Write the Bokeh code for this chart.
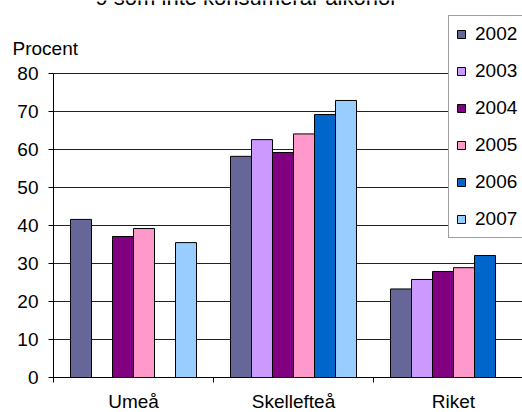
from bokeh.plotting import figure
from bokeh.models import ColumnDataSource, Range1d, FixedTicker, Label, Legend, LegendItem
from bokeh.transform import dodge
from bokeh.embed import file_html
from bokeh.resources import INLINE

# ---- data ----
categories = ["Umeå", "Skellefteå", "Riket"]
years = ["2002", "2003", "2004", "2005", "2006", "2007"]
nan = float("nan")
v2002 = [41.6, 58.2, 23.3]
v2003 = [nan, 62.6, 25.8]
v2004 = [37.1, 59.2, 27.9]
v2005 = [39.2, 64.1, 28.9]
v2006 = [nan, 69.2, 32.1]
v2007 = [35.5, 72.9, nan]
series = [v2002, v2003, v2004, v2005, v2006, v2007]
colors = ["#666699", "#CC99FF", "#800080", "#FF99CC", "#0066CC", "#99CCFF"]
y_ticks = [0, 10, 20, 30, 40, 50, 60, 70, 80]
y_label = "Procent"
title_text = "9 som inte konsumerar alkohol"

FONT = "Liberation Sans"
FS = "19px"

W, H = 522, 412
X0, PXX = 53, 160.0   # pixel of x=0, pixels per category
Y0, PXY = 377, 3.8    # pixel of y=0, pixels per percent
x_start, x_end = -X0 / PXX, (W - X0) / PXX
y_start, y_end = (Y0 - H) / PXY, Y0 / PXY

data = {"x": [i + 0.5 for i in range(len(categories))]}
for yr, vals in zip(years, series):
    data[yr] = vals
src = ColumnDataSource(data)

p = figure(width=W, height=H,
           x_range=Range1d(x_start, x_end), y_range=Range1d(y_start, y_end),
           output_backend="svg", toolbar_location=None, min_border=0,
           outline_line_color=None, background_fill_color="white")
p.xgrid.visible = False
p.ygrid.visible = False

# horizontal gridlines at the tick values, from the y axis to the right edge
grid_y = y_ticks[1:]
p.segment(x0=[0] * len(grid_y), x1=[x_end] * len(grid_y), y0=grid_y, y1=grid_y,
          line_color="#222222", line_width=1)

BW = 0.13125
items = []
n = len(years)
for i, (yr, col) in enumerate(zip(years, colors)):
    off = (i - (n - 1) / 2) * BW
    r = p.vbar(x=dodge("x", off, range=p.x_range), top=yr, width=BW, source=src,
               fill_color=col, line_color="black", line_width=1)
    items.append(LegendItem(label=yr, renderers=[r]))

# y axis
ya = p.yaxis[0]
ya.fixed_location = 0
ya.bounds = (0, y_ticks[-1])
ya.ticker = FixedTicker(ticks=y_ticks)
ya.major_tick_out = 5
ya.major_tick_in = 0
ya.minor_tick_out = 0
ya.minor_tick_in = 0
ya.axis_line_color = "black"
ya.major_tick_line_color = "black"
ya.major_label_text_font = FONT
ya.major_label_text_font_size = FS
ya.major_label_text_color = "black"
ya.major_label_standoff = 10

# x axis
xa = p.xaxis[0]
xa.fixed_location = 0
xa.bounds = (0, x_end)
cat_pos = [i + 0.5 for i in range(len(categories))]
xa.ticker = FixedTicker(ticks=cat_pos, minor_ticks=list(range(0, len(categories))))
xa.major_label_overrides = {pos: c for pos, c in zip(cat_pos, categories)}
xa.major_tick_out = 0
xa.major_tick_in = 0
xa.minor_tick_out = 5
xa.minor_tick_in = 0
xa.minor_tick_line_color = "black"
xa.axis_line_color = "black"
xa.major_label_text_font = FONT
xa.major_label_text_font_size = FS
xa.major_label_text_color = "black"
xa.major_label_standoff = 8

p.add_layout(Label(x=(12 - X0) / PXX, y=(Y0 - 48) / PXY, text=y_label,
                   text_align="left", text_baseline="alphabetic",
                   text_font=FONT, text_font_size=FS, text_color="black"))

p.add_layout(Label(x=(95 - X0) / PXX, y=(Y0 + 3) / PXY, text=title_text,
                   text_align="left", text_baseline="alphabetic",
                   text_font=FONT, text_font_size="22px", text_color="black"))

legend = Legend(items=items, location=(448, H - 238), margin=0, padding=7,
                spacing=15, glyph_width=10, glyph_height=10, label_standoff=9,
                label_text_font=FONT, label_text_font_size=FS,
                label_text_color="black",
                border_line_color="#404040", border_line_width=1,
                background_fill_color="white", background_fill_alpha=1)
p.add_layout(legend)

open("out.html", "w").write(file_html(p, INLINE))
